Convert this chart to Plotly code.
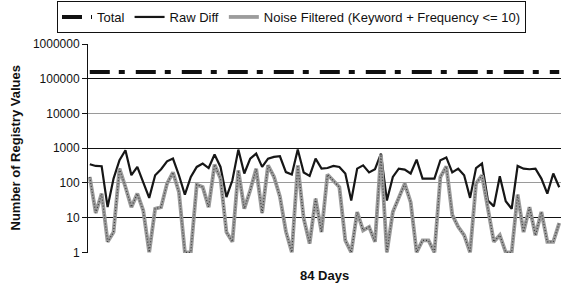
import plotly.graph_objects as go

# ---- data ----
days = list(range(1, 81))

raw_diff = [344, 307, 301, 20, 133, 448, 869, 166, 288, 106,
            37, 166, 247, 419, 500, 166, 46, 148, 288, 360,
            268, 655, 288, 39, 119, 909, 186, 500, 695, 288,
            500, 560, 585, 205, 174, 909, 200, 158, 500, 257,
            268, 307, 288, 186, 31, 257, 321, 200, 247, 695,
            31, 148, 257, 240, 186, 468, 133, 133, 133, 448,
            540, 200, 257, 166, 37, 268, 360, 31, 21, 155,
            29.5, 18, 307, 257, 247, 257, 133, 49, 186, 75]

noise_filtered = [148, 13.5, 49, 2, 3.8, 257, 76, 20, 49, 16,
                  1, 18, 20, 95, 200, 55, 1, 1, 89, 76,
                  20, 336, 133, 3.8, 2, 230, 18, 61, 257, 13.5,
                  321, 150, 40, 4, 1, 321, 9.4, 1.8, 35, 3.8,
                  174, 119, 76, 2.2, 1, 14.5, 4.3, 5.4, 2, 650,
                  1, 14.5, 39, 95, 28, 1, 2.2, 2.2, 1, 148,
                  300, 12, 5.4, 3.1, 1, 95, 166, 18, 2, 3.1,
                  1, 1, 46, 3.8, 20, 3.1, 14.5, 2, 2, 7]

total = [155000, 155000, 155000, 155000, 155000, 155000, 155000, 155000, 155000, 155000,
         155000, 155000, 155000, 155000, 155000, 155000, 155000, 155000, 155000, 155000,
         155000, 155000, 155000, 155000, 155000, 155000, 155000, 155000, 155000, 155000,
         155000, 155000, 155000, 155000, 155000, 155000, 155000, 155000, 155000, 155000,
         155000, 155000, 155000, 155000, 155000, 155000, 155000, 155000, 155000, 155000,
         155000, 155000, 155000, 155000, 155000, 155000, 155000, 155000, 155000, 155000,
         155000, 155000, 155000, 155000, 155000, 155000, 155000, 155000, 155000, 155000,
         155000, 155000, 155000, 155000, 155000, 155000, 155000, 155000, 155000, 155000]

y_tickvals = [1, 10, 100, 1000, 10000, 100000, 1000000]
y_ticktext = ["1", "10", "100", "1000", "10000", "100000", "1000000"]
grid_gray = [1, 100, 10000, 1000000]
grid_black = [10, 1000, 100000]

series_names = ["Total", "Raw Diff", "Noise Filtered (Keyword + Frequency <= 10)"]
x_title = "84 Days"
y_title = "Number of Registry Values"

FONT = "Liberation Sans, Arial, sans-serif"

fig = go.Figure()

fig.add_trace(go.Scatter(
    x=days, y=total, name=series_names[0], mode="lines",
    line=dict(color="#111111", width=4, dash="20px,9px,6px,11px"),
))
fig.add_trace(go.Scatter(
    x=days, y=raw_diff, name=series_names[1], mode="lines",
    line=dict(color="#161616", width=2.2),
))
fig.add_trace(go.Scatter(
    x=days, y=noise_filtered, name=series_names[2], mode="lines",
    legendgroup="nf",
    line=dict(color="#9c9c9c", width=3.8),
))
fig.add_trace(go.Scatter(
    x=days, y=noise_filtered, name=series_names[2], mode="lines",
    legendgroup="nf", showlegend=False, hoverinfo="skip",
    line=dict(color="#3c3c3c", width=1.2, dash="1px,2px"),
))

yr = [-0.02, 6.0]
fig.update_layout(
    width=562, height=283,
    margin=dict(l=88, r=1, t=44, b=30),
    paper_bgcolor="white", plot_bgcolor="white",
    font=dict(family=FONT, size=12, color="#111111"),
    showlegend=True,
    legend=dict(
        orientation="h", xref="container", yref="container",
        x=57 / 562, xanchor="left", y=1 - 1 / 283, yanchor="top",
        bordercolor="#111111", borderwidth=1, bgcolor="white",
        font=dict(family=FONT, size=13, color="#111111"),
        itemwidth=30, tracegroupgap=0,
    ),
    xaxis=dict(
        range=[0.7, 80.3], showgrid=False, zeroline=False,
        showticklabels=False, ticks="", showline=False, fixedrange=True,
    ),
    yaxis=dict(
        type="log", range=yr, tickvals=y_tickvals, ticktext=y_ticktext,
        showgrid=False, zeroline=False, showline=True, linecolor="#111111",
        linewidth=1, ticks="outside", ticklen=5, tickcolor="#111111",
        tickfont=dict(family=FONT, size=12, color="#111111"),
    ),
    yaxis2=dict(
        type="log", range=yr, overlaying="y", tickvals=grid_gray,
        showticklabels=False, ticks="", showgrid=True, gridcolor="#9a9a9a",
        gridwidth=1, zeroline=False, showline=False,
    ),
    yaxis3=dict(
        type="log", range=yr, overlaying="y", tickvals=grid_black,
        showticklabels=False, ticks="", showgrid=True, gridcolor="#111111",
        gridwidth=1, zeroline=False, showline=False,
    ),
    annotations=[
        dict(text="<b>" + x_title + "</b>", xref="paper", yref="paper",
             x=0.5, y=-22 / 209, xanchor="center", yanchor="middle",
             showarrow=False, font=dict(family=FONT, size=13, color="#111111")),
        dict(text="<b>" + y_title + "</b>", xref="paper", yref="paper",
             x=-73 / 473, y=0.5, xanchor="center", yanchor="middle",
             textangle=-90, showarrow=False,
             font=dict(family=FONT, size=13, color="#111111")),
    ],
)

# invisible traces to activate the grid-only overlay axes
fig.add_trace(go.Scatter(x=[days[0]], y=[total[0]], yaxis="y2", mode="lines",
                         showlegend=False, hoverinfo="skip", opacity=0))
fig.add_trace(go.Scatter(x=[days[0]], y=[total[0]], yaxis="y3", mode="lines",
                         showlegend=False, hoverinfo="skip", opacity=0))

fig.write_html(
    "out.html",
    config={"displayModeBar": False},
    post_script="document.body.style.margin='0';document.body.style.padding='0';",
)
